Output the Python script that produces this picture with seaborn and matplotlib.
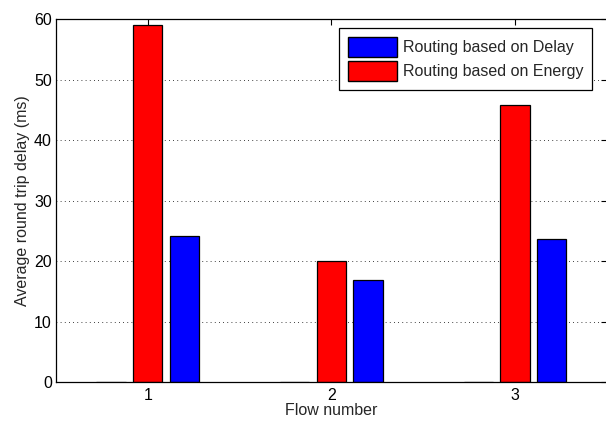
import matplotlib
matplotlib.use("Agg")
import matplotlib.pyplot as plt
import seaborn as sns
import pandas as pd
from matplotlib.patches import Patch

flows = ["1", "2", "3"]
energy = [59.1, 20.0, 45.8]
delay = [24.2, 16.8, 23.7]
series_names = ["Routing based on Delay", "Routing based on Energy"]

sns.set_theme(style="white")
plt.rcParams['font.family'] = ['Liberation Sans', 'DejaVu Sans']

rows = []
for f, e, d in zip(flows, energy, delay):
    rows.append({"flow": f, "series": "_pad", "value": 0.0})
    rows.append({"flow": f, "series": series_names[1], "value": e})
    rows.append({"flow": f, "series": series_names[0], "value": d})
df = pd.DataFrame(rows)

fig = plt.figure(figsize=(6.06, 4.22), dpi=100)
ax = fig.add_axes([0.0924, 0.0948, 0.909, 0.860])

palette = {"_pad": "white", series_names[1]: "#ff0000", series_names[0]: "#0000ff"}
sns.barplot(data=df, x="flow", y="value", hue="series",
            hue_order=["_pad", series_names[1], series_names[0]],
            palette=palette, width=0.6, gap=0.2, edgecolor="black",
            linewidth=0.9, saturation=1, ax=ax, legend=False, errorbar=None)

fs = 11.5
ax.set_xlim(-0.5, 2.5)
ax.set_ylim(0, 60)
ax.set_yticks(range(0, 61, 10))
ax.set_xlabel("Flow number", fontsize=fs, labelpad=0)
ax.set_ylabel("Average round trip delay (ms)", fontsize=fs, labelpad=3)
ax.tick_params(axis="both", direction="in", length=4, width=0.8, labelsize=fs,
               top=True, right=True, color="black", labelcolor="black")
ax.tick_params(axis="x", pad=4)
ax.tick_params(axis="y", pad=3)
ax.yaxis.grid(True, linestyle=(0, (1, 4)), color="black", linewidth=0.6)
ax.set_axisbelow(True)
for s in ax.spines.values():
    s.set_color("black")
    s.set_linewidth(0.9)
    s.set_visible(True)

handles = [Patch(facecolor="#0000ff", edgecolor="black", label=series_names[0]),
           Patch(facecolor="#ff0000", edgecolor="black", label=series_names[1])]
leg = ax.legend(handles=handles, loc="upper right", bbox_to_anchor=(0.973, 0.975),
                fontsize=fs, frameon=True, fancybox=False, edgecolor="black",
                framealpha=1, borderpad=0.55, handlelength=3.1, handleheight=1.6,
                labelspacing=0.2, handletextpad=0.35, borderaxespad=0)
leg.get_frame().set_linewidth(0.9)

fig.savefig("out.png", dpi=100)
